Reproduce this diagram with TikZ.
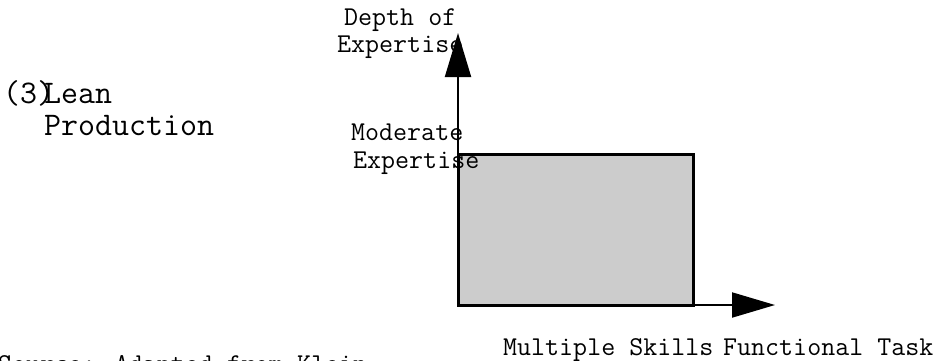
\documentclass[tikz,border=0pt]{standalone}
\usetikzlibrary{arrows.meta}
\begin{document}
\begin{tikzpicture}[x=1pt,y=-1pt,
  lbl/.style={inner sep=0pt,anchor=base west,font=\ttfamily\fontsize{27.2}{30}\selectfont},
  biglbl/.style={inner sep=0pt,anchor=base west,font=\ttfamily\fontsize{33}{36}\selectfont},
  axis/.style={line width=2pt,-{Triangle[length=44pt,width=26pt]}},
  zone/.style={fill=black!20,draw=black,line width=3pt}]
  \clip (0,0) rectangle (934,360);

  \coordinate (origin) at (458,305);
  \coordinate (ytip) at (458,33);
  \coordinate (xtip) at (775,305);

  % shaded region of the chart
  \draw[zone] (origin) rectangle (693,154);

  % labels
  \node[biglbl] (num) at (3,103) {(3)};
  \node[biglbl] (lean) at (44,103) {Lean};
  \node[biglbl] (prod) at (44,135) {Production};

  \node[lbl] (depth) at (344,25) {Depth of};
  \node[lbl] (expA) at (337,52) {Expertise};

  \node[lbl] (modA) at (351,140) {Moderate};
  \node[lbl] (modB) at (353,168) {Expertise};

  \node[lbl] (multi) at (503,355) {Multiple Skills};
  \node[lbl] (func) at (723,355) {Functional Task};

  \node[lbl] (src) at (-2,372) {Source: Adapted from Klein};

  % axes
  \draw[axis] (origin) -- (ytip);
  \draw[axis,-{Triangle[length=43pt,width=25pt]}] (origin) -- (xtip);
\end{tikzpicture}
\end{document}
